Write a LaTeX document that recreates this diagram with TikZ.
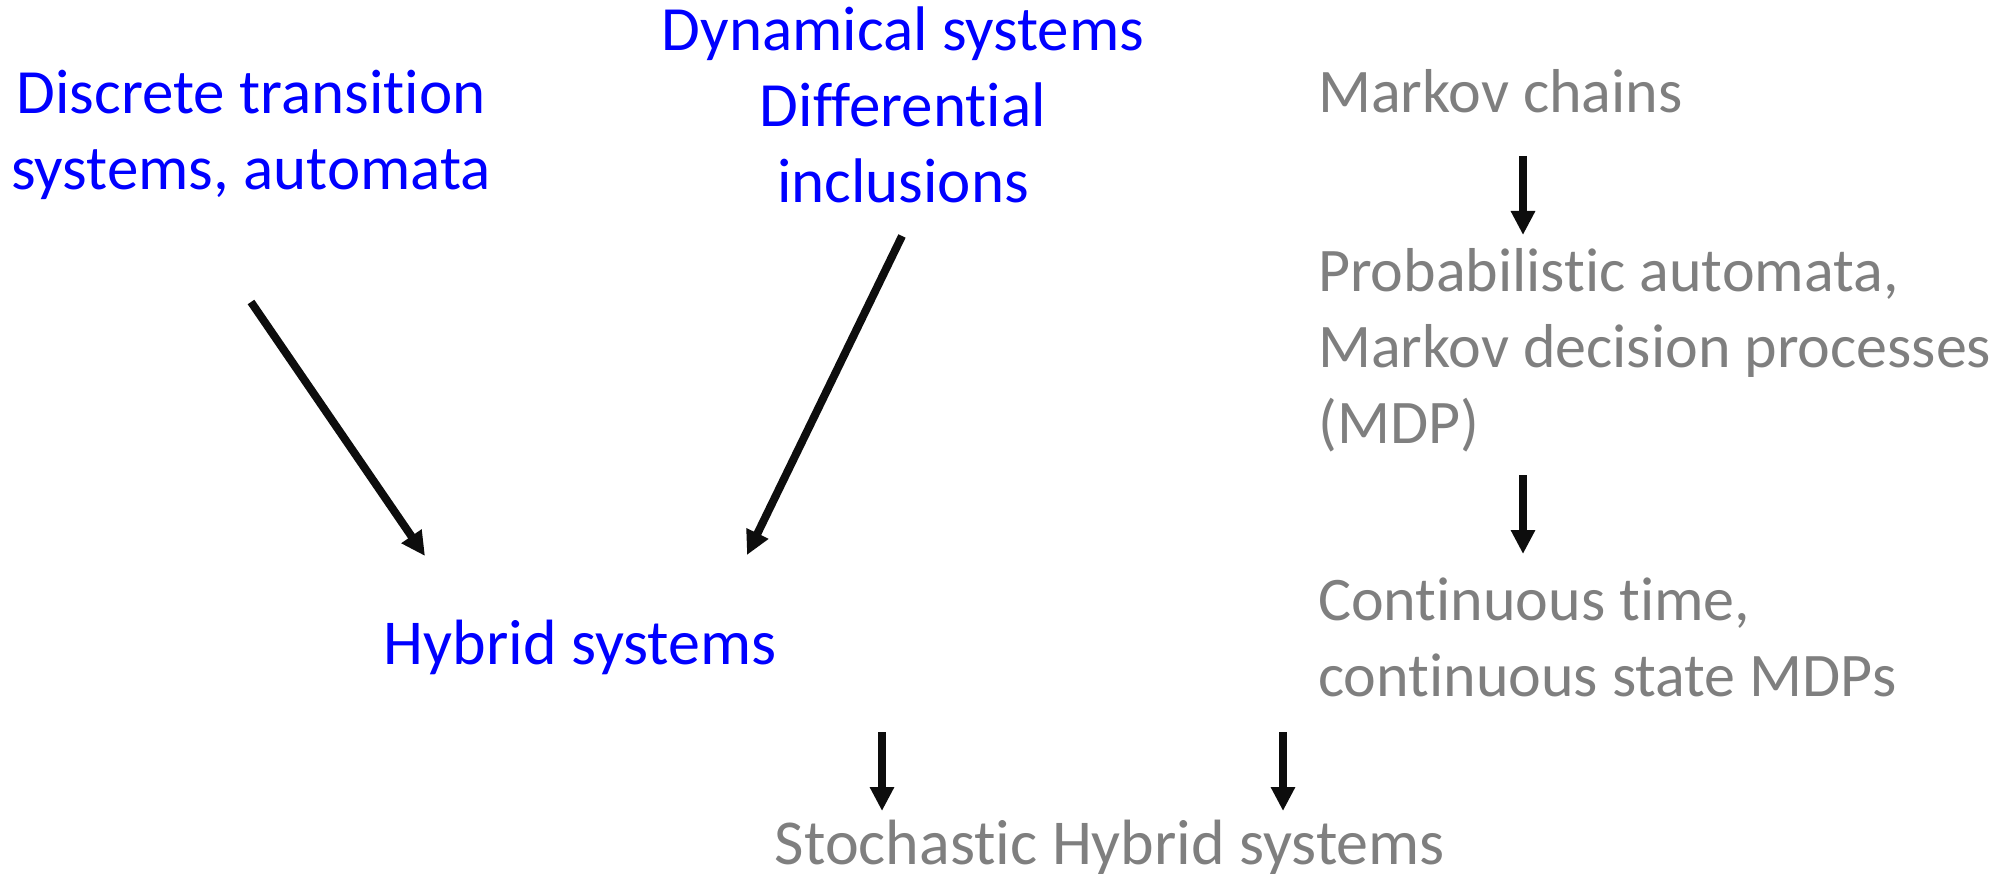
\documentclass[tikz,border=0pt]{standalone}
\usepackage{fontspec}
\setmainfont{Carlito}[RawFeature={-liga;-dlig;-clig}]
\usetikzlibrary{arrows.meta}
\definecolor{txtblue}{RGB}{0,0,255}
\definecolor{txtgray}{RGB}{127,127,127}
\definecolor{arrblack}{RGB}{13,13,13}
\begin{document}
\begin{tikzpicture}[x=1pt,y=-1pt,
  lbl/.style={inner sep=0pt, font=\fontsize{63}{76}\selectfont},
  biglbl/.style={inner sep=0pt, font=\fontsize{64}{77}\selectfont},
  rightlbl/.style={inner sep=0pt, font=\fontsize{62}{76}\selectfont},
  bluelbl/.style={lbl, text=txtblue},
  graylbl/.style={rightlbl, text=txtgray},
  conn/.style={draw=arrblack, line width=8pt, -{Triangle[width=23pt,length=24pt]}}]
\useasboundingbox (0,0) rectangle (2003,874);

\node[bluelbl, anchor=base] (dts) at (251,114)
  {\begin{tabular}[t]{@{}c@{}}Discrete transition\\systems, automata\end{tabular}};
\node[bluelbl, anchor=base] (dyn) at (903,51)
  {\begin{tabular}[t]{@{}c@{}}Dynamical systems\\Differential\\inclusions\end{tabular}};
\node[biglbl, text=txtblue, anchor=base] (hyb) at (580,664) {Hybrid systems};

\node[graylbl, anchor=base west] (mc) at (1318,113) {Markov chains};
\node[graylbl, anchor=base west] (mdp) at (1318,292)
  {\begin{tabular}[t]{@{}l@{}}Probabilistic automata,\\Markov decision processes\\(MDP)\end{tabular}};
\node[graylbl, anchor=base west] (ct) at (1318,620)
  {\begin{tabular}[t]{@{}l@{}}Continuous time,\\continuous state MDPs\end{tabular}};
\node[biglbl, text=txtgray, anchor=base] (shs) at (1110,864) {Stochastic Hybrid systems};

\coordinate (a1s) at (251,302);  \coordinate (a1e) at (425,556);
\coordinate (a2s) at (902,236);  \coordinate (a2e) at (747,555);
\coordinate (a3s) at (1523,156); \coordinate (a3e) at (1523,235);
\coordinate (a4s) at (1523,475); \coordinate (a4e) at (1523,554);
\coordinate (a5s) at (882,732);  \coordinate (a5e) at (882,811);
\coordinate (a6s) at (1283,732); \coordinate (a6e) at (1283,811);

\draw[conn] (a1s) -- (a1e);
\draw[conn] (a2s) -- (a2e);
\draw[conn] (a3s) -- (a3e);
\draw[conn] (a4s) -- (a4e);
\draw[conn] (a5s) -- (a5e);
\draw[conn] (a6s) -- (a6e);
\end{tikzpicture}
\end{document}
